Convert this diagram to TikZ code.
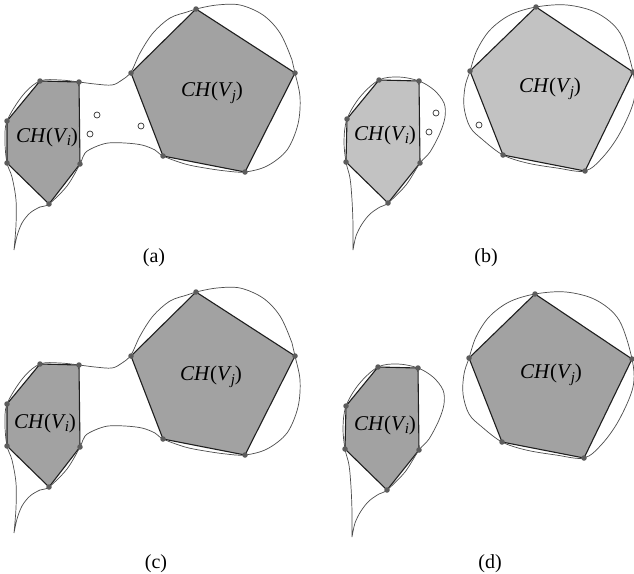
\documentclass[tikz,border=0pt]{standalone}
\usepackage{fontspec}
\setmainfont{Liberation Serif}
\definecolor{fillA}{gray}{0.635}
\definecolor{fillB}{gray}{0.76}
\definecolor{curvegray}{gray}{0.3}
\definecolor{dotgray}{gray}{0.36}
\tikzset{
  hull/.style={draw=black!88, line width=1.1pt, line join=round},
  outline/.style={draw=curvegray, line width=0.7pt},
  vdot/.style={circle, fill=dotgray, inner sep=0pt, minimum size=5.5pt},
  hole/.style={circle, draw=black!80, fill=white, line width=0.7pt, inner sep=0pt, minimum size=6pt},
  hlabel/.style={font=\fontsize{21}{25}\selectfont, inner sep=0pt},
  caplabel/.style={font=\fontsize{20}{24}\selectfont, inner sep=0pt}
}
\newcommand{\CHV}[1]{\textit{CH}(\textit{V}\kern-0.06em\raisebox{-0.4ex}{\fontsize{15}{15}\selectfont\textit{#1}})}
% panels (a) and (c)
\newcommand{\panelAC}[2]{%
  \coordinate (#2h1) at (40,81);  \coordinate (#2h2) at (79,82);
  \coordinate (#2h3) at (80,164); \coordinate (#2h4) at (49,204);
  \coordinate (#2h5) at (7,163);  \coordinate (#2h6) at (7,121);
  \coordinate (#2p1) at (196,9);  \coordinate (#2p2) at (295,73);
  \coordinate (#2p3) at (245,172);\coordinate (#2p4) at (163,156);
  \coordinate (#2p5) at (131,73);
  \filldraw[hull, fill=#1] (#2h1) -- (#2h2) -- (#2h3) -- (#2h4) -- (#2h5) -- (#2h6) -- cycle;
  \filldraw[hull, fill=#1] (#2p1) -- (#2p2) -- (#2p3) -- (#2p4) -- (#2p5) -- cycle;
  \draw[outline] plot[smooth, tension=0.55] coordinates {
    (14,250) (17,236) (22,223) (30,213) (40,207) (49,204) (67,186) (80,164)
    (85,153) (95,147) (108,143) (125,143) (142,145) (155,150) (163,156)
    (185,164) (205,168) (226,171) (245,172)
    (267,166) (287,150) (298,124) (300,97) (295,73)
    (292,60) (280,33) (263,15) (240,5) (217,5) (196,9)
    (187,12) (170,18) (153,33) (140,53) (131,72)
    (122,80) (112,85) (95,84) (79,82)
    (60,80) (40,81) (23,95) (7,121) (5,142) (7,163)
    (12,177) (16,200) (16,225) (14,250)};
  \foreach \v in {h1,h2,h3,h4,h5,h6,p1,p2,p3,p4,p5}
    \node[vdot] (#2d\v) at (#2\v) {};
}
% panels (b) and (d)
\newcommand{\panelBD}[2]{%
  \coordinate (#2h1) at (379,80);  \coordinate (#2h2) at (419,81);
  \coordinate (#2h3) at (420,163); \coordinate (#2h4) at (388,203);
  \coordinate (#2h5) at (346,162); \coordinate (#2h6) at (347,119);
  \coordinate (#2p1) at (536,7);   \coordinate (#2p2) at (633,72);
  \coordinate (#2p3) at (585,171); \coordinate (#2p4) at (503,155);
  \coordinate (#2p5) at (470,71);
  \filldraw[hull, fill=#1] (#2h1) -- (#2h2) -- (#2h3) -- (#2h4) -- (#2h5) -- (#2h6) -- cycle;
  \filldraw[hull, fill=#1] (#2p1) -- (#2p2) -- (#2p3) -- (#2p4) -- (#2p5) -- cycle;
  \draw[outline] plot[smooth, tension=0.55] coordinates {
    (353,250) (356,236) (362,224) (370,214) (380,207) (388,203) (406,185) (420,163)
    (430,152) (440,133) (445,117) (444,103) (434,90) (419,81)
    (399,77) (379,80) (360,97) (347,119) (344,141) (346,162)
    (350,178) (352,200) (353,225) (353,250)};
  \draw[outline] plot[smooth cycle, tension=0.55] coordinates {
    (536,7) (567,5) (597,13) (620,33) (633,72)
    (634,100) (620,133) (603,157) (585,171)
    (557,168) (527,163) (503,155)
    (483,140) (470,127) (464,107) (465,87) (470,71)
    (477,50) (490,30) (510,15)};
  \foreach \v in {h1,h2,h3,h4,h5,h6,p1,p2,p3,p4,p5}
    \node[vdot] (#2d\v) at (#2\v) {};
}
\begin{document}
\begin{tikzpicture}[x=1pt, y=-1pt]
  \fill[white] (0,0) rectangle (634,573);
  \useasboundingbox (0,0) rectangle (634,573);

  % (a)
  \panelAC{fillA}{a}
  \node[hole] (a_c1) at (97,115) {};
  \node[hole] (a_c2) at (90,134) {};
  \node[hole] (a_c3) at (141,126) {};
  \node[hlabel] (a_lj) at (212,93) {\CHV{j}};
  \node[hlabel] (a_li) at (47,137) {\CHV{i}};
  \node[caplabel] (a_cap) at (154,258) {(a)};

  % (b)
  \panelBD{fillB}{b}
  \node[hole] (b_c1) at (436,113) {};
  \node[hole] (b_c2) at (429,132) {};
  \node[hole] (b_c3) at (479,125) {};
  \node[hlabel] (b_li) at (385,135) {\CHV{i}};
  \node[hlabel] (b_lj) at (550,89) {\CHV{j}};
  \node[caplabel] (b_cap) at (486,258) {(b)};

  % (c)
  \begin{scope}[shift={(0,283)}]
    \panelAC{fillA}{c}
  \end{scope}
  \node[hlabel] (c_lj) at (211,377) {\CHV{j}};
  \node[hlabel] (c_li) at (45,423) {\CHV{i}};
  \node[caplabel] (c_cap) at (156,564) {(c)};

  % (d)
  \begin{scope}[shift={(-1,287)}]
    \panelBD{fillA}{d}
  \end{scope}
  \node[hlabel] (d_li) at (385,425) {\CHV{i}};
  \node[hlabel] (d_lj) at (551,375) {\CHV{j}};
  \node[caplabel] (d_cap) at (490,564) {(d)};
\end{tikzpicture}
\end{document}
